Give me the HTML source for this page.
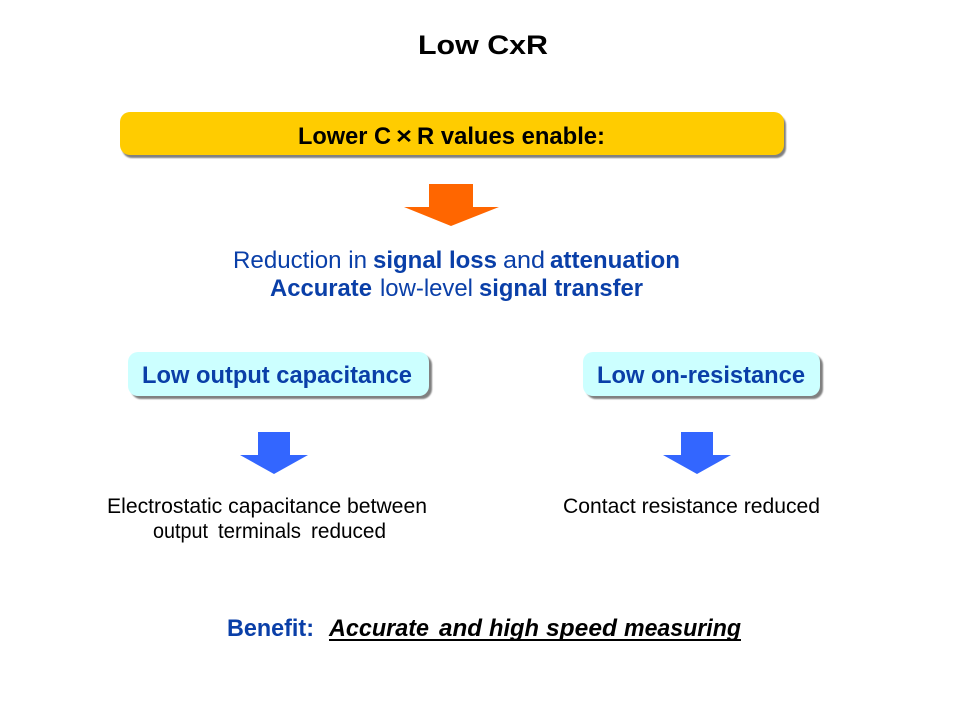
<!DOCTYPE html>
<html><head><meta charset="utf-8"><style>
html,body{margin:0;padding:0;background:#fff;width:960px;height:720px;overflow:hidden}
svg{display:block}
text{font-family:"Liberation Sans",Arial,sans-serif}
.b{font-weight:bold}
.bl{fill:#0a3fa8}
.bi{font-weight:bold;font-style:italic}
</style></head><body>
<svg width="960" height="720" viewBox="0 0 960 720" xmlns="http://www.w3.org/2000/svg">
<defs><filter id="s" x="-5%" y="-20%" width="110%" height="140%"><feGaussianBlur stdDeviation="0.7"/></filter></defs>
<rect width="960" height="720" fill="#fff"/>
<text class="b" x="418" y="54" font-size="27" textLength="130" lengthAdjust="spacingAndGlyphs">Low CxR</text>

<rect x="122" y="115" width="664" height="43" rx="10" fill="#808080" filter="url(#s)"/>
<rect x="120" y="112" width="664" height="43" rx="10" fill="#ffcc00"/>
<text class="b" x="298" y="144" font-size="24" textLength="93" lengthAdjust="spacingAndGlyphs">Lower C</text>
<text class="b" x="396" y="144" font-size="24" textLength="16" lengthAdjust="spacingAndGlyphs">×</text>
<text class="b" x="417" y="144" font-size="24" textLength="188" lengthAdjust="spacingAndGlyphs">R values enable:</text>

<polygon points="429,184 473,184 473,207 499,207 451,226 404,207 429,207" fill="#ff6600"/>

<text class="bl" x="233" y="268" font-size="24" textLength="134" lengthAdjust="spacingAndGlyphs">Reduction in</text>
<text class="bl b" x="373" y="268" font-size="24" textLength="124" lengthAdjust="spacingAndGlyphs">signal loss</text>
<text class="bl" x="503" y="268" font-size="24" textLength="42" lengthAdjust="spacingAndGlyphs">and</text>
<text class="bl b" x="550" y="268" font-size="24" textLength="130" lengthAdjust="spacingAndGlyphs">attenuation</text>
<text class="bl b" x="270" y="296" font-size="24" textLength="102" lengthAdjust="spacingAndGlyphs">Accurate</text>
<text class="bl" x="380" y="296" font-size="24" textLength="93" lengthAdjust="spacingAndGlyphs">low-level</text>
<text class="bl b" x="479" y="296" font-size="24" textLength="164" lengthAdjust="spacingAndGlyphs">signal transfer</text>

<rect x="131" y="355" width="301" height="44" rx="10" fill="#808080" filter="url(#s)"/>
<rect x="128" y="352" width="301" height="44" rx="10" fill="#ccffff"/>
<text class="bl b" x="142" y="383" font-size="24" textLength="270" lengthAdjust="spacingAndGlyphs">Low output capacitance</text>

<rect x="586" y="355" width="237" height="44" rx="10" fill="#808080" filter="url(#s)"/>
<rect x="583" y="352" width="237" height="44" rx="10" fill="#ccffff"/>
<text class="bl b" x="597" y="383" font-size="24" textLength="208" lengthAdjust="spacingAndGlyphs">Low on-resistance</text>

<polygon points="258,432 290,432 290,455 308,455 274,474 240,455 258,455" fill="#3366ff"/>
<polygon points="681,432 713,432 713,455 731,455 697,474 663,455 681,455" fill="#3366ff"/>

<text x="107" y="513" font-size="21" textLength="320" lengthAdjust="spacingAndGlyphs">Electrostatic capacitance between</text>
<text x="153" y="538" font-size="21" textLength="55" lengthAdjust="spacingAndGlyphs">output</text>
<text x="218" y="538" font-size="21" textLength="83" lengthAdjust="spacingAndGlyphs">terminals</text>
<text x="311" y="538" font-size="21" textLength="75" lengthAdjust="spacingAndGlyphs">reduced</text>
<text x="563" y="513" font-size="21" textLength="257" lengthAdjust="spacingAndGlyphs">Contact resistance reduced</text>

<text class="bl b" x="227" y="636" font-size="24" textLength="87" lengthAdjust="spacingAndGlyphs">Benefit:</text>
<text class="bi" x="329" y="636" font-size="24" textLength="100" lengthAdjust="spacingAndGlyphs">Accurate</text>
<text class="bi" x="439" y="636" font-size="24" textLength="43" lengthAdjust="spacingAndGlyphs">and</text>
<text class="bi" x="489" y="636" font-size="24" textLength="50" lengthAdjust="spacingAndGlyphs">high</text>
<text class="bi" x="546" y="636" font-size="24" textLength="71" lengthAdjust="spacingAndGlyphs">speed</text>
<text class="bi" x="624" y="636" font-size="24" textLength="117" lengthAdjust="spacingAndGlyphs">measuring</text>
<rect x="329" y="639" width="412" height="2" fill="#000"/>
</svg>
</body></html>
